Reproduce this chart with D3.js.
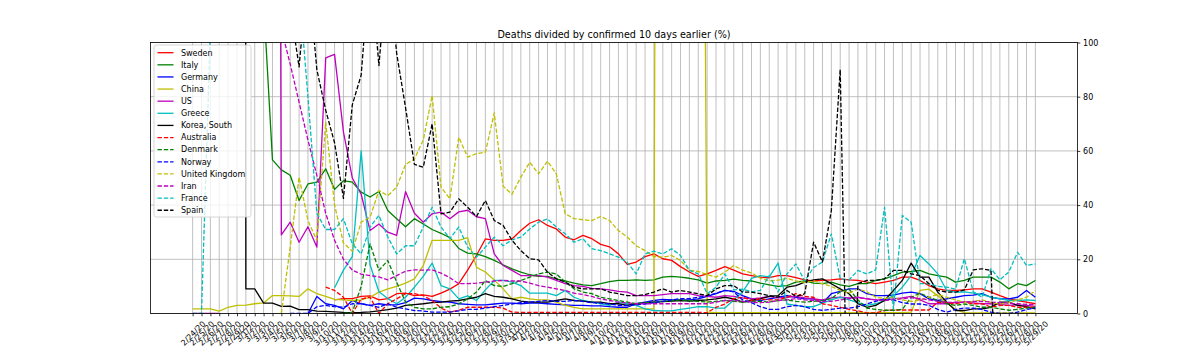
<!DOCTYPE html>
<html><head><meta charset="utf-8">
<script src="https://cdn.jsdelivr.net/npm/d3@7"></script>
<style>body{margin:0;background:#fff}svg{display:block}text{font-family:"DejaVu Sans",sans-serif}</style>
</head><body><svg id="c" width="1198" height="358"></svg>
<script>
const dates = ["2/24/20","2/25/20","2/26/20","2/27/20","2/28/20","2/29/20",
"3/1/20","3/2/20","3/3/20","3/4/20","3/5/20","3/6/20","3/7/20","3/8/20","3/9/20","3/10/20",
"3/11/20","3/12/20","3/13/20","3/14/20","3/15/20","3/16/20","3/17/20","3/18/20","3/19/20","3/20/20",
"3/21/20","3/22/20","3/23/20","3/24/20","3/25/20","3/26/20","3/27/20","3/28/20","3/29/20","3/30/20","3/31/20",
"4/1/20","4/2/20","4/3/20","4/4/20","4/5/20","4/6/20","4/7/20","4/8/20","4/9/20","4/10/20",
"4/11/20","4/12/20","4/13/20","4/14/20","4/15/20","4/16/20","4/17/20","4/18/20","4/19/20","4/20/20",
"4/21/20","4/22/20","4/23/20","4/24/20","4/25/20","4/26/20","4/27/20","4/28/20","4/29/20","4/30/20",
"5/1/20","5/2/20","5/3/20","5/4/20","5/5/20","5/6/20","5/7/20","5/8/20","5/9/20","5/10/20",
"5/11/20","5/12/20","5/13/20","5/14/20","5/15/20","5/16/20","5/17/20","5/18/20","5/19/20","5/20/20",
"5/21/20","5/22/20","5/23/20","5/24/20","5/25/20","5/26/20","5/27/20","5/28/20","5/29/20"];
const yTicks = [0,20,40,60,80,100];
const N = null;

const sweden = [N,N,N,N,N,N,N,N,N,N,
 N,N,N,N,N,N,5,5.5,5.5,6.3,
 6.5,5,5.5,7.3,7.5,6.6,6.9,6.3,7.5,9,
 11,16,21.5,27.5,27,27,27.5,30.6,33.3,34.6,
 32.5,31.2,28.2,27.2,28.8,27.6,25.5,24.6,22,18.1,
 19,21,22,20.2,19.6,17.3,15.3,13.7,14.6,15.9,
 17.3,16,14.6,14,13.4,13.2,14,14,13.2,12.4,
 12,12.2,12.4,12.8,12.4,12.2,11.6,11,11.6,12.2,
 13.4,13.4,12.2,10.3,9.1,8.5,8.5,8.7,9.1,9.1,
 7.9,6.6,5.4,4.8,4.2,3.6];
const italy = [300,300,300,300,300,250,220,180,115,56.7,
 53,51,41.7,47.8,48.5,53.4,45.8,49,48.5,44.8,
 43,45,38,35,32,35,33,31,29.6,28,
 24,22.3,22,21,19.6,18,16.5,15.3,14.3,13.7,
 13.7,12.8,12,11.2,10.6,10.3,11,11.8,12.2,12.2,
 12.4,12.2,12.4,13.4,13.7,13.4,13,12.4,11.2,12,
 12.2,12.7,12.2,12,11.2,10.6,10,10.3,11.6,12,
 11.2,11,11.6,10.6,10,11,11,12.2,12.8,14,
 15.3,15.5,15.9,14.6,14,13.4,11.6,12.2,13.4,13.4,
 13.4,11.6,9.1,11,10.3,12.2];
const germany = [N,N,N,N,N,N,N,N,N,N,
 N,N,N,0,6.3,3.6,3,1.7,4.8,3.6,
 3,3.6,3.2,3.2,4,5.7,5.4,4.8,4.4,4.2,
 3.6,3.4,3.2,3.2,3.5,3.8,3.8,3.6,3.8,3.8,
 3.6,3.4,3.2,3,3,2.8,2.8,2.5,2.3,2.3,
 3.6,4.2,4.8,5.2,5,5,5,5.4,6.3,7.3,
 8.5,8.2,6.6,5.4,4.8,5.4,6,6.6,6,5.4,
 5.4,3.8,7.3,8.2,9.1,9.1,7.3,6.6,6.6,6.8,
 7.5,7.9,7.3,5.4,4.8,5.4,6,6.6,6.8,7.3,
 6,5.4,5.4,6,8.5,6];
const china = [1.7,1.7,1.7,0.9,2.3,3,3.1,3.6,3.9,6.6,
 6.6,6.5,6.3,9.1,7.3,6.3,5.2,5,4.8,5,
 6,7.9,9.1,10,11.2,12.8,17.7,27,27,27,
 27,28,17,15.3,12.4,9.1,5.4,6,5.4,5,
 5,4.2,3,2.3,1.7,1.7,1.7,1.7,1.7,1.7,
 1.7,1.7,1.7,1000,1000,1000,1000,500,0.5,0.3,
 0.3,0.3,0.3,0.3,0.3,0.3,0.3,0.3,0.3,0.3,
 0.3,0.3,0.3,0.3,0.3,0.3,0.3,0.3,0.3,0.3,
 0.3,0.5,8.5,9,6.5,4,1.5,0.3,0.2,0.2,
 0.2,0.2,0.2,0.2,0.2,0.2];
const us = [0,0,0,0,N,N,N,N,N,1000,
 29,33.7,26.3,32,24.5,94.3,95.6,67,50,44,
 30.6,33,30,28.8,45,37,33.7,36.8,37.4,35,
 37.5,38.1,35.7,35,22,17.7,15.9,14,14,14,
 13.4,12.2,11,10.3,10,9.3,9.1,8.7,8.2,7.9,
 6.6,6.6,6.6,7,7.3,7.3,7.3,6.6,6.3,6,
 6.6,6.3,5.8,5.4,5.8,6.3,5.8,6,6.3,5.8,
 5.4,5,5.8,6,5.8,6,5.4,5,5,5.4,
 5.8,6.3,5,3.6,3.6,3.6,4.2,4.2,3.9,3.6,
 3.6,3.4,3,3.2,3,2.6];
const greece = [N,N,N,N,N,N,N,N,N,N,
 N,N,N,N,N,N,9.5,16,21,60,
 18,8,5.5,3.6,6,9.7,13.7,18.6,10.3,9.1,
 5.4,6.5,4.8,8.7,12.2,12.2,11.6,10.3,7.5,7.5,
 7.5,6.6,8.5,6,4.8,4.2,3.6,3,4.2,3.6,
 3,1.7,1.1,1,1,1.5,2,2.5,2.5,2,
 2,5,8,13,14,13.5,18.6,3.5,3,2.5,
 2.5,3.8,5,6,5,4,3,3.6,4.8,6.6,
 9.7,14,21.4,18.3,14.6,8.5,7.9,8,7.5,7,
 6,5.5,4.8,4.8,5,4.8];
const korea = [5000,5000,5000,5000,5000,5000,9.1,9.1,3.8,3.8,
 2.6,2.7,1.4,1.4,0.9,0.8,0.6,0.4,0.3,0.4,
 0.6,1,1.4,2,3,3.3,3.6,4,4.2,4.6,
 4.8,5.4,6,7.3,6.3,6,5.4,4.6,4.2,4.2,
 4.2,4.8,5.4,4.8,4.6,4.2,4.2,3.6,3.6,3,
 3.6,3.8,4.2,4.4,4.6,4.8,4.6,4.8,5,5.4,
 6,5.4,4.2,4.8,5.4,6.3,6.6,9.7,10.3,11.6,
 12.4,12.8,11,9.1,7.3,3.6,2.3,3,4.8,8.5,
 12.2,18.6,13.4,13.4,7.9,4.2,1.1,1.1,1.7,1.7,
 2.3,4.2,4.2,3,2.5,1.7];
const australia = [N,N,N,N,N,N,N,N,N,N,
 N,N,N,N,N,9.7,8.5,6,0,5.4,
 6,0,3.6,5.4,7.3,7.3,6.6,4.8,2,0.5,
 1.2,2.3,2.3,2.3,2.3,2,0.5,0.4,0.4,0.4,
 0.4,0.4,0.4,0.4,0.4,0.4,0.4,0.4,0.4,0.4,
 0.4,0.4,0.4,0.4,0.4,0.4,0.4,0.4,0.3,2.3,
 3.5,5.5,6,4.8,5.4,5,5,6,7.3,6.3,
 6,3.6,3,2.3,1.5,1,0.2,0.2,1.1,1.3,
 1.3,1.3,1.3,1.3,4.2,4,3.6,4.2,3.6,3.6,
 2.3,3,3,2.3,2.3,2.3];
const denmark = [N,N,N,N,N,N,N,N,N,N,
 N,N,N,N,N,N,N,0,0.5,10,
 25.7,15.9,19.6,11.6,4.2,2.3,1.7,1.7,2.3,2.5,
 3.6,5.4,7.9,12.2,10.3,10,11,12.2,13.4,14.6,
 15.3,14.6,11.6,9.1,7.9,7.3,6,5.4,4.8,4.2,
 3.6,4,4.2,4.5,4.8,5,4.8,4.5,4.2,4.5,
 4.8,4.5,4.2,4.5,4.5,4.2,4.8,5,4.5,4.2,
 4.5,4.8,5.5,8,9,5,2,1.5,1.2,1.2,
 1.5,6,7.5,6,4.8,3.6,3,3.5,3,2.3,
 2.3,1.7,1.2,1.5,2,2.3];
const norway = [N,N,N,N,N,N,N,N,N,N,
 N,0,0,0,2.5,3,2.5,2.3,3.6,3.6,
 3,2.3,3.6,2.3,1.7,1.1,0.9,0.5,0.5,0.5,
 1,1.5,1.5,2,2.5,3,3.5,4,4.2,4.5,
 4.8,4.5,4.5,4.8,4.5,4,3.8,3.5,3,3,
 3.2,3.5,4,4.5,5,5.5,5.5,6,6.5,7.5,
 8.5,8,5,4,2.5,1.5,1.5,2.5,3,2.5,
 1.5,1.2,1.5,2,2,2.5,3.5,4.5,5.5,5,
 4,3.5,3.5,3,1.5,0.5,1.5,2,2,1.5,
 0.5,0,0,0.5,1.5,2];
const uk = [N,N,N,N,N,N,N,N,N,N,
 0,24.5,50.3,34.3,27,70.6,40,26,23,33.7,
 35.5,45.4,43.5,46.6,55,57,64,80.4,46.6,42.3,
 65,57.7,59,59.5,74,47,44,50.3,55.8,51.5,
 56.2,51.5,36.8,35,34.6,34.3,35.8,34.3,30.6,28.2,
 25,23.2,21,20.8,21.4,19.6,15.9,15.5,14.4,13.4,
 15.3,17.7,16,15,13,12,12.3,13,12,11.5,
 12,11,10,8.5,7.5,9,8,6,5.5,6,
 5,4.5,5,6,7,6,5,4,4.5,5,
 4,3.5,4,5,6,8.5];
const iran = [300,300,300,300,300,300,300,300,300,300,
 105,92,78,64,51,37,27,20,16,14.5,
 14,13.5,12.4,14,15.6,16.1,16,16.1,14.9,13.2,
 11,11,11.2,11.6,12,12.2,12,12,11.2,10.3,
 9.7,9.1,8.5,7.5,7,6.3,5.4,4.8,4.2,3.9,
 3.6,3.6,3.6,3.6,3.6,3.6,3.6,3.6,3.6,4.2,
 4.8,4.8,4.5,4.2,4,4.2,4.8,5,5.5,5,
 4.8,4.5,4.5,5,5.5,5.8,5.5,5,4.8,5,
 5.5,5.8,5.5,5,4.5,4.2,4,4.2,4.5,4.5,
 4.2,4,3.8,3.6,3.4,3.2];
const france = [0,0,105,200,200,200,200,200,200,200,
 200,200,120,80,37,31,31,35,25.7,22,
 31.9,36.2,28.2,22,25,25,31.9,39.2,31.9,27.6,
 31.9,24.5,20.8,24.5,28.2,25,27.2,28.2,31.2,33.7,
 34.9,31.9,29.4,26.3,27.6,23.9,23.2,22,20.8,18.9,
 14.6,22,23,22,23.9,21.4,15.9,14.6,7.3,9.7,
 14.6,8.7,9,8,8.5,14,8,14.6,18.3,12,
 17,19,29.4,12.8,12.4,15.9,14.6,16.1,39.2,1.7,
 36.2,33.7,11,11,10,9.7,9,20.2,8,6,
 16.5,12.4,15.3,22.6,17.7,18.3];
const spain = [200,200,200,200,200,200,200,200,200,200,
 200,113,91,127,90,75,63,42.5,77,88,
 130,91.5,130,96,76,55,54,70,36.8,37.4,
 42.3,39.2,35.8,41.7,34.3,32.5,27,23.2,20.2,19.8,
 15.3,12.8,11.6,9.7,9.1,9.1,9.1,7.9,7.3,6.6,
 6.6,7,7.9,9.1,7.9,8.5,7.9,7.3,6.6,9.1,
 10.3,10.3,7.9,7.9,7.3,6.6,6,8.5,6.3,7.3,
 26.3,19,38,90,-73,11,12.2,12.2,12.8,15.9,
 15.9,14.6,14,11,8.5,7.9,7.9,8.7,16.1,16.5,
 15.9,-63,-60,-55,-50,-45];

const names = ["Sweden","Italy","Germany","China","US","Greece","Korea, South",
 "Australia","Denmark","Norway","United Kingdom","Iran","France","Spain"];
const values = [sweden,italy,germany,china,us,greece,korea,australia,denmark,norway,uk,iran,france,spain];
const colors = ["#ff0000","#008000","#0000ff","#bfbf00","#bf00bf","#00bfbf","#000000",
 "#ff0000","#008000","#0000ff","#bfbf00","#bf00bf","#00bfbf","#000000"];
const dashed = [false,false,false,false,false,false,false,true,true,true,true,true,true,true];

const M = {left:150.5,right:1077.5,top:42.5,bottom:313.5};
const svg = d3.select("#c");
const x = d3.scaleLinear().domain([-4.75, dates.length - 1 + 4.75]).range([M.left, M.right]);
const y = d3.scaleLinear().domain([0,100]).range([M.bottom, M.top]);

const grid = svg.append("g");
grid.selectAll("line.v").data(d3.range(dates.length)).join("line").attr("class","v")
  .attr("x1", i=>x(i)).attr("x2", i=>x(i)).attr("y1", M.top).attr("y2", M.bottom)
  .attr("stroke","#b0b0b0").attr("stroke-width",0.8);
grid.selectAll("line.h").data(yTicks).join("line").attr("class","h")
  .attr("x1", M.left).attr("x2", M.right).attr("y1", d=>y(d)).attr("y2", d=>y(d))
  .attr("stroke","#b0b0b0").attr("stroke-width",0.8);

svg.append("defs").append("clipPath").attr("id","clip").append("rect")
  .attr("x",M.left).attr("y",M.top).attr("width",M.right-M.left).attr("height",M.bottom-M.top);

const line = d3.line().defined(d=>d!=null).x((d,i)=>x(i)).y(d=>y(d));
const lg = svg.append("g").attr("clip-path","url(#clip)");
values.forEach((v,k)=>{
  lg.append("path").attr("d", line(v)).attr("fill","none")
    .attr("stroke", colors[k]).attr("stroke-width",1.3)
    .attr("stroke-linejoin","round")
    .attr("stroke-dasharray", dashed[k] ? "4.4,1.9" : null);
});

svg.append("rect").attr("x",M.left).attr("y",M.top).attr("width",M.right-M.left).attr("height",M.bottom-M.top)
  .attr("fill","none").attr("stroke","#000").attr("stroke-width",0.8);

const xAxis = d3.axisBottom(x).tickValues(d3.range(dates.length)).tickFormat(i=>dates[i]).tickSize(2.8).tickPadding(0);
const gx = svg.append("g").attr("transform",`translate(0,${M.bottom})`).call(xAxis);
gx.select(".domain").remove();
gx.selectAll(".tick line").attr("stroke","#000").attr("stroke-width",0.8);
gx.selectAll(".tick text").attr("font-size",8).attr("font-family","DejaVu Sans").attr("fill","#000")
  .attr("text-anchor","middle").attr("y",null).attr("dy","0.35em")
  .each(function(){
    const w = this.getComputedTextLength();
    const h = 8*1.164;
    const bh = (w+h)*Math.SQRT1_2;
    d3.select(this).attr("transform",`translate(0,${2.8+2.8+bh/2}) rotate(-45)`);
  });

const yAxis = d3.axisRight(y).tickValues(yTicks).tickFormat(d=>String(d)).tickSize(2.8).tickPadding(2.8);
const gy = svg.append("g").attr("transform",`translate(${M.right},0)`).call(yAxis);
gy.select(".domain").remove();
gy.selectAll(".tick line").attr("stroke","#000").attr("stroke-width",0.8);
gy.selectAll(".tick text").attr("font-size",8).attr("font-family","DejaVu Sans").attr("fill","#000");

svg.append("text").attr("x",(M.left+M.right)/2).attr("y",37.5).attr("text-anchor","middle")
  .attr("font-size",9.6).attr("fill","#000").text("Deaths divided by confirmed 10 days earlier (%)");

const leg = svg.append("g");
leg.append("rect").attr("x",154).attr("y",45).attr("width",97).attr("height",172).attr("rx",2.5)
  .attr("fill","#fff").attr("fill-opacity",0.8).attr("stroke","#cccccc").attr("stroke-width",0.8);
names.forEach((n,k)=>{
  const yy = 52.7 + k*12.12;
  leg.append("line").attr("x1",157.5).attr("x2",173.5).attr("y1",yy).attr("y2",yy)
    .attr("stroke",colors[k]).attr("stroke-width",1.3)
    .attr("stroke-dasharray", dashed[k] ? "4.4,1.9" : null);
  leg.append("text").attr("x",181).attr("y",yy).attr("dy","0.35em").attr("font-size",8).attr("fill","#000").text(n);
});
</script></body></html>
